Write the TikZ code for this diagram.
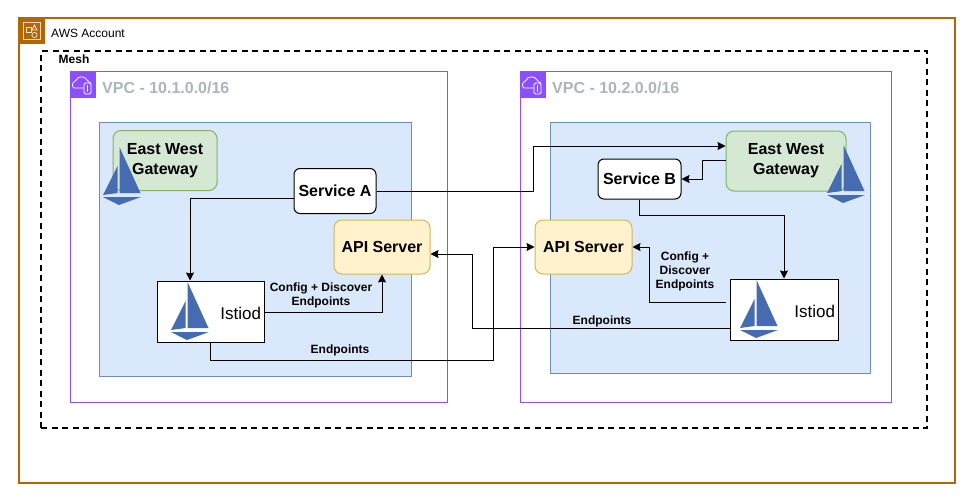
\documentclass[tikz,border=0pt]{standalone}
\usepackage{fontspec}
\setmainfont{Liberation Sans}
\usetikzlibrary{arrows.meta, positioning, calc}
\definecolor{acctcol}{HTML}{B46504}
\definecolor{vpccol}{HTML}{8C4FFF}
\definecolor{sailcol}{HTML}{466BB0}
\definecolor{vpctext}{HTML}{AAB7B8}
\definecolor{subnetfill}{HTML}{DAE8FC}
\definecolor{subnetline}{HTML}{6C8EBF}
\definecolor{gwfill}{HTML}{D5E8D4}
\definecolor{gwline}{HTML}{82B366}
\definecolor{apifill}{HTML}{FFF2CC}
\definecolor{apiline}{HTML}{D6B656}
\tikzset{%
	account/.style={draw=acctcol, line width=1.5pt, minimum width=936, minimum height=465},
	mesh/.style={draw, line width=1.5pt, dash pattern=on 6pt off 4.5pt, minimum width=886, minimum height=377},
	vpc/.style={draw=vpccol, line width=1pt, minimum height=330},
	subnet/.style={draw=subnetline, fill=subnetfill, line width=1pt},
	gateway/.style={draw=gwline, fill=gwfill, line width=1pt, rounded corners=8pt,%
		align=center, font=\fontsize{16}{20}\selectfont\bfseries,%
		execute at begin node=\rule{0pt}{14.5pt}},
	service/.style={draw, fill=white, line width=1pt, rounded corners=6pt, font=\fontsize{16}{20}\selectfont\bfseries},
	api/.style={draw=apiline, fill=apifill, line width=1pt, rounded corners=8pt,%
		font=\fontsize{16}{20}\selectfont\bfseries},
	istiod/.style={draw, fill=white, line width=1pt, inner xsep=3pt, align=right,%
		font=\fontsize{17}{20}\selectfont, execute at begin node=\rule{0pt}{15.5pt}},
	edgelabel/.style={align=center, inner sep=0pt, font=\fontsize{12}{14}\selectfont\bfseries},
	title/.style={anchor=west, inner sep=0pt},
	vpctitle/.style={title, text=vpctext, font=\fontsize{16}{20}\selectfont\bfseries},
	link/.style={-{Stealth[length=8pt,width=8pt,inset=1pt]}, line width=1pt},
	iconbox/.style={minimum size=26, inner sep=0pt, anchor=north west},
	pics/sail/.style={code={
		\fill[sailcol] (16.5,0) -- (37.5,46) -- (16.5,46) -- cycle;
		\fill[sailcol] (14.5,19) -- (0,48) -- (14.5,46) -- cycle;
		\fill[sailcol] (0,50) -- (38,50) -- (16,58) -- cycle;
	}},
	pics/vpcicon/.style={code={
		\draw[white, line width=0.8pt, rounded corners=2pt] (14,16) -- (6,16)
			.. controls (2,16) and (2,10) .. (6,10) .. controls (7,4) and (15,4) .. (17,9) -- (21,11);
		\draw[white, line width=0.8pt, fill=vpccol, rounded corners=1.5pt] (14,11) rectangle (21,22);
		\draw[white, line width=0.8pt] (17.5,13) -- (17.5,20);
	}},
	pics/accticon/.style={code={
		\draw[white!75!acctcol, line width=0.8pt] (4,4) rectangle (21,21);
		\draw[white!85!acctcol, line width=0.7pt] (7,9) rectangle (12,14);
		\draw[white!85!acctcol, line width=0.7pt] (15.5,7) -- (18,12) -- (13,12) -- cycle;
		\draw[white!85!acctcol, line width=0.7pt] (15.5,17) circle (2.6);
	}}
}
\begin{document}
\begin{tikzpicture}[x=1pt, y=-1pt]
	\useasboundingbox (0,0) rectangle (980,503);

	\node[account] (acct) at (487,250.5) {};
	\node[iconbox, fill=acctcol] (accticon) at (19,18) {};
	\pic at (accticon.north west) {accticon};
	\node[title, font=\fontsize{12}{14}\selectfont] (acctlabel) at (51,33) {AWS Account};

	\node[mesh] (mesh) at (484,239.5) {};
	\node[title, font=\fontsize{12}{14}\selectfont\bfseries] (meshlabel) at (58.5,59) {Mesh};

	\node[vpc, minimum width=377] (vpcA) at (258.5,237) {};
	\node[iconbox, fill=vpccol] (vpcAicon) at (70,72) {};
	\pic at (vpcAicon.north west) {vpcicon};
	\node[vpctitle] (vpcAlabel) at (102,88) {VPC - 10.1.0.0/16};

	\node[vpc, minimum width=371] (vpcB) at (705.5,237) {};
	\node[iconbox, fill=vpccol] (vpcBicon) at (520,72) {};
	\pic at (vpcBicon.north west) {vpcicon};
	\node[vpctitle] (vpcBlabel) at (552,88) {VPC - 10.2.0.0/16};

	\node[subnet, minimum width=312, minimum height=254] (subnetA) at (255,249) {};
	\node[subnet, minimum width=320, minimum height=251] (subnetB) at (710,247.5) {};

	\node[gateway, minimum width=104, minimum height=60] (gwA) at (165,160.5) {East West\\Gateway};
	\node[service, minimum width=82, minimum height=45] (svcA) at (335,191) {Service A};
	\node[api, minimum width=96, minimum height=54] (apiA) at (382,247) {API Server};
	\node[istiod, minimum height=61, text width=101] (istiodA) at (210.5,311.5) {Istiod};

	\node[gateway, minimum width=120, minimum height=60] (gwB) at (786,161) {East West\\Gateway};
	\node[service, minimum width=83, minimum height=40] (svcB) at (639.5,179) {Service B};
	\node[api, minimum width=97, minimum height=54] (apiB) at (583.5,247) {API Server};
	\node[istiod, minimum height=61, text width=102] (istiodB) at (784,309.5) {Istiod};

	\pic at (103,147) {sail};
	\pic at (171,282) {sail};
	\pic at (827,145) {sail};
	\pic at (740,280) {sail};

	\draw[link] ([yshift=-7]svcA.west) -| ([xshift=-20.5]istiodA.north);
	\draw[link] (svcA.east) -- ++(157,0) |- ([yshift=15]gwB.west);
	\draw[link] ([yshift=-0.5]istiodA.east) -| (apiA.south);
	\draw[link] (istiodA.south) |- ++(0,18) -| (493,247) -- (apiB.west);
	\draw[link] ([yshift=1]gwB.west) -- ++(-23,0) |- (svcB.east);
	\draw[link] (svcB.south) |- ++(0,16) -| (istiodB.north);
	\draw[link] ([xshift=-4,yshift=7.5]istiodB.west) -| (649,247) -- (apiB.east);
	\draw[link] ([yshift=-18.5]istiodB.west) -| (472,254) -- ([yshift=-7]apiA.east);

	\node[edgelabel] (cfgA) at (321,295.5) {Config + Discover\\Endpoints};
	\node[edgelabel] (epA) at (340,350.5) {Endpoints};
	\node[edgelabel] (cfgB) at (685,271.5) {Config +\\Discover\\Endpoints};
	\node[edgelabel] (epB) at (602,321.5) {Endpoints};
\end{tikzpicture}
\end{document}
